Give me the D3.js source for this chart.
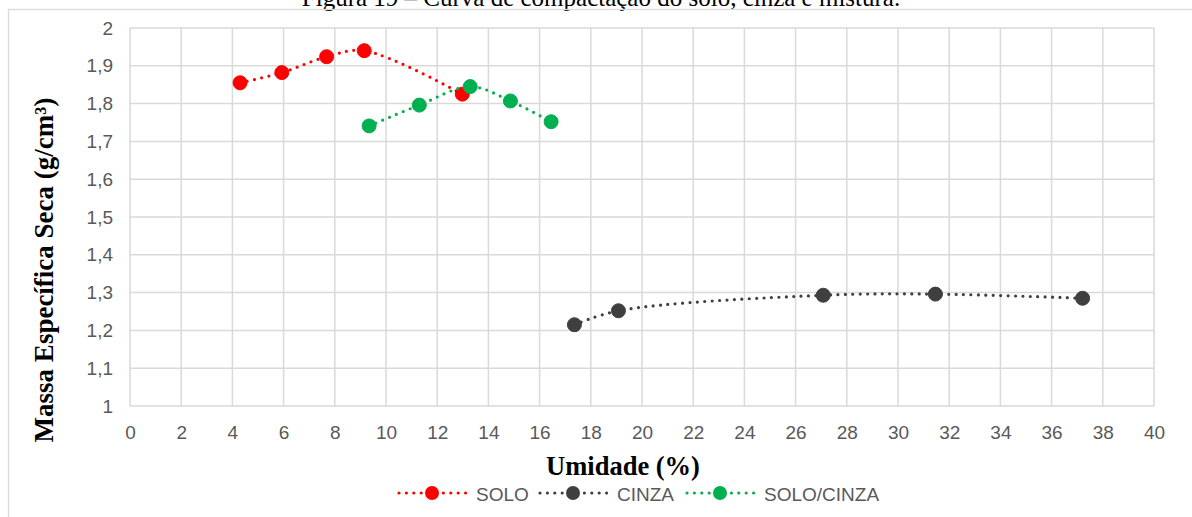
<!DOCTYPE html>
<html>
<head>
<meta charset="utf-8">
<script src="https://cdn.jsdelivr.net/npm/d3@7"></script>
<style>
  body { margin: 0; background: #fff; }
  svg { display: block; }
</style>
</head>
<body>
<div id="chart"></div>
<script>
// Curva de compactação: umidade (%) x massa específica seca (g/cm3)
var soloX = [4.30, 5.93, 7.68, 9.15, 12.98];
var soloY = [1.855, 1.882, 1.924, 1.940, 1.825];

var cinzaX = [17.36, 19.08, 27.08, 31.46, 37.21];
var cinzaY = [1.215, 1.252, 1.293, 1.296, 1.285];

var misturaX = [9.34, 11.30, 13.29, 14.86, 16.45];
var misturaY = [1.741, 1.796, 1.845, 1.807, 1.752];

var seriesNames = ["SOLO", "CINZA", "SOLO/CINZA"];
var seriesColors = ["#ff0000", "#3f3f3f", "#00b050"];

var xTicks = d3.range(0, 41, 2);
var yTicks = [1, 1.1, 1.2, 1.3, 1.4, 1.5, 1.6, 1.7, 1.8, 1.9, 2];

var tituloFigura = "Figura 19 – Curva de compactação do solo, cinza e mistura.";
var tituloX = "Umidade (%)";
var tituloY = "Massa Específica Seca (g/cm³)";

function pontos(xs, ys) {
    var arr = [];
    for (var i = 0; i < xs.length; i++) {
        arr.push({x: xs[i], y: ys[i]});
    }
    return arr;
}

function tegnChart() {
    var width = 1192, height = 517;
    var plot = {left: 130, right: 1154, top: 28, bottom: 406};
    var gridColor = "#d9d9d9";
    var textColor = "#595959";
    var sans = "'Liberation Sans', Arial, sans-serif";
    var serif = "'Liberation Serif', 'Times New Roman', serif";

    var series = [pontos(soloX, soloY), pontos(cinzaX, cinzaY), pontos(misturaX, misturaY)];

    var xScale = d3.scaleLinear().domain([0, 40]).range([plot.left, plot.right]);
    var yScale = d3.scaleLinear().domain([1, 2]).range([plot.bottom, plot.top]);

    var svg = d3.select("#chart").append("svg")
        .attr("width", width)
        .attr("height", height);

    // figure caption, cut at the top as in the page
    svg.append("text")
        .attr("x", 601)
        .attr("y", 6)
        .attr("text-anchor", "middle")
        .style("font-family", serif)
        .style("font-size", "25px")
        .style("fill", "#000")
        .text(tituloFigura);

    // chart area border
    svg.append("rect")
        .attr("x", 8.5)
        .attr("y", 9.5)
        .attr("width", 1300)
        .attr("height", 600)
        .style("fill", "none")
        .style("stroke", gridColor)
        .style("stroke-width", "1.3px");

    // gridlines
    svg.append("g").selectAll("line")
        .data(yTicks)
        .enter()
        .append("line")
          .attr("x1", plot.left)
          .attr("x2", plot.right)
          .attr("y1", function(d) { return yScale(d); })
          .attr("y2", function(d) { return yScale(d); })
          .style("stroke", gridColor)
          .style("stroke-width", "1.5px");

    svg.append("g").selectAll("line")
        .data(xTicks)
        .enter()
        .append("line")
          .attr("x1", function(d) { return xScale(d); })
          .attr("x2", function(d) { return xScale(d); })
          .attr("y1", plot.top)
          .attr("y2", plot.bottom)
          .style("stroke", gridColor)
          .style("stroke-width", "1.5px");

    // axes (labels only, the grid does the lines)
    var xAxis = d3.axisBottom(xScale)
        .tickValues(xTicks)
        .tickSize(0)
        .tickPadding(20)
        .tickFormat(d3.format("d"));
    var gx = svg.append("g")
        .attr("transform", "translate(0," + plot.bottom + ")")
        .call(xAxis);

    var yAxis = d3.axisLeft(yScale)
        .tickValues(yTicks)
        .tickSize(0)
        .tickPadding(17)
        .tickFormat(function(d) { return String(+d.toFixed(1)).replace(".", ","); });
    var gy = svg.append("g")
        .attr("transform", "translate(" + plot.left + ",0)")
        .call(yAxis);

    [gx, gy].forEach(function(g) {
        g.select(".domain").remove();
        g.selectAll("text")
          .style("font-family", sans)
          .style("font-size", "19px")
          .style("fill", textColor);
    });
    gx.select(".domain").remove();

    // axis titles
    svg.append("text")
        .attr("x", 623)
        .attr("y", 475)
        .attr("text-anchor", "middle")
        .style("font-family", serif)
        .style("font-weight", "bold")
        .style("font-size", "26.5px")
        .text(tituloX);

    svg.append("text")
        .attr("transform", "translate(53,270) rotate(-90)")
        .attr("text-anchor", "middle")
        .style("font-family", serif)
        .style("font-weight", "bold")
        .style("font-size", "27px")
        .text(tituloY);

    // dotted trend curves and markers
    var line = d3.line()
        .x(function(d) { return xScale(d.x); })
        .y(function(d) { return yScale(d.y); })
        .curve(d3.curveCatmullRom.alpha(0.5));

    series.forEach(function(data, i) {
        svg.append("path")
            .datum(data)
            .attr("d", line)
            .style("fill", "none")
            .style("stroke", seriesColors[i])
            .style("stroke-width", "3.2px")
            .style("stroke-linecap", "round")
            .style("stroke-dasharray", "0 7.4");

        svg.append("g").selectAll("circle")
            .data(data)
            .enter()
            .append("circle")
              .attr("cx", function(d) { return xScale(d.x); })
              .attr("cy", function(d) { return yScale(d.y); })
              .attr("r", 7)
              .style("fill", seriesColors[i])
              .style("stroke", seriesColors[i])
              .style("stroke-width", "1px");
    });

    // legend
    var legendStarts = [399, 540, 687];
    var legendY = 493;
    var legend = svg.append("g").selectAll("g")
        .data(seriesNames)
        .enter()
        .append("g")
          .attr("transform", function(d, i) { return "translate(" + legendStarts[i] + "," + legendY + ")"; });

    legend.append("line")
        .attr("x1", 0)
        .attr("x2", 67)
        .attr("y1", 0)
        .attr("y2", 0)
        .style("stroke", function(d, i) { return seriesColors[i]; })
        .style("stroke-width", "3.2px")
        .style("stroke-linecap", "round")
        .style("stroke-dasharray", "0 7.4");

    legend.append("circle")
        .attr("cx", 33)
        .attr("cy", 0)
        .attr("r", 7)
        .style("fill", function(d, i) { return seriesColors[i]; });

    legend.append("text")
        .attr("x", 77)
        .attr("y", 7.5)
        .style("font-family", sans)
        .style("font-size", "19px")
        .style("fill", textColor)
        .text(function(d) { return d; });
}

tegnChart();
</script>
</body>
</html>
